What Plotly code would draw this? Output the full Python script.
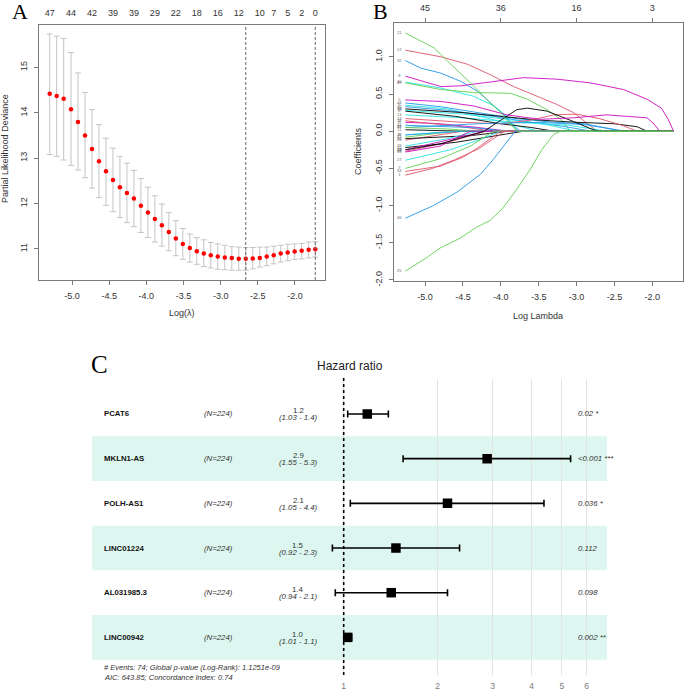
import plotly.graph_objects as go

W, H = 685, 691
FONT = "Liberation Sans, Arial, sans-serif"
SERIF = "Liberation Serif, Times New Roman, serif"
BOX = "#7a7a7a"
TXT = "#333333"


def fx(p):
    return p / W


def fy(p):
    return 1 - p / H


# ---------------- Panel A : cross-validated partial likelihood deviance ----------------
cv_log_lambda = [-5.300, -5.206, -5.112, -5.013, -4.919, -4.825, -4.731, -4.637, -4.543, -4.449,
                 -4.355, -4.261, -4.167, -4.073, -3.979, -3.885, -3.791, -3.697, -3.603, -3.509,
                 -3.415, -3.321, -3.227, -3.133, -3.039, -2.944, -2.850, -2.756, -2.662, -2.568,
                 -2.474, -2.380, -2.286, -2.192, -2.098, -2.004, -1.910, -1.816, -1.727]
cv_mean = [14.42, 14.37, 14.31, 14.08, 13.80, 13.50, 13.20, 12.93, 12.71, 12.52,
           12.36, 12.23, 12.11, 11.95, 11.80, 11.66, 11.52, 11.37, 11.23, 11.11,
           11.02, 10.95, 10.90, 10.86, 10.83, 10.81, 10.80, 10.78, 10.78, 10.79,
           10.80, 10.83, 10.86, 10.90, 10.92, 10.94, 10.96, 10.98, 10.99]
cv_upper = [15.74, 15.69, 15.64, 15.33, 14.88, 14.45, 14.07, 13.74, 13.44, 13.22,
            13.04, 12.89, 12.73, 12.55, 12.36, 12.17, 11.99, 11.80, 11.62, 11.45,
            11.33, 11.25, 11.20, 11.14, 11.11, 11.08, 11.05, 11.04, 11.03, 11.03,
            11.04, 11.04, 11.06, 11.08, 11.10, 11.11, 11.12, 11.15, 11.16]
cv_lower = [13.08, 13.04, 12.96, 12.84, 12.74, 12.57, 12.34, 12.13, 11.96, 11.82,
            11.69, 11.58, 11.49, 11.36, 11.25, 11.15, 11.06, 10.96, 10.85, 10.77,
            10.71, 10.66, 10.61, 10.58, 10.55, 10.54, 10.53, 10.53, 10.53, 10.56,
            10.60, 10.63, 10.67, 10.71, 10.74, 10.77, 10.78, 10.80, 10.82]
lambda_min_idx = 28
lambda_1se_idx = 38
nzero_tick_idx = [0, 3, 6, 9, 12, 15, 18, 21, 24, 27, 30, 32, 34, 36, 38]
nzero_tick_labels = ["47", "44", "42", "39", "39", "29", "22", "18", "16", "12", "10", "7", "5", "2", "0"]

loglam_ticks = [-5.0, -4.5, -4.0, -3.5, -3.0, -2.5, -2.0]
loglam_tick_labels = ["-5.0", "-4.5", "-4.0", "-3.5", "-3.0", "-2.5", "-2.0"]
dev_ticks = [11, 12, 13, 14, 15]

# ---------------- Panel B : coefficient paths ----------------
path_palette = ["#000000", "#DF536B", "#61D04F", "#2297E6", "#28E2E5", "#CD0BBC"]
path_end = -1.72
# (palette index, log-lambda knots, coefficient knots, variable label)
coef_paths = [
    (1, [-5.26, -4.79, -4.44, -4.14, -3.83, -3.48, -3.26, -3.04, -2.86, -2.73], [1.09, 1.00, 0.90, 0.76, 0.60, 0.45, 0.36, 0.25, 0.11, 0.0], "17"),
    (3, [-5.26, -5.06, -4.79, -4.53, -4.31, -4.14, -3.96, -3.83, -3.74], [0.95, 0.85, 0.78, 0.67, 0.54, 0.38, 0.22, 0.07, 0.0], "32"),
    (4, [-5.26, -4.79, -4.36, -4.09, -3.92, -3.78], [0.66, 0.58, 0.47, 0.34, 0.20, 0.0], "40"),
    (2, [-5.26, -4.79, -4.36, -3.87, -3.65, -3.39, -3.21, -3.08], [0.65, 0.56, 0.52, 0.51, 0.43, 0.29, 0.16, 0.0], "49"),
    (3, [-5.26, -4.80, -4.30, -3.80, -3.30, -2.90, -2.40], [0.38, 0.33, 0.25, 0.17, 0.12, 0.10, 0.0], "44"),
    (4, [-5.26, -4.70, -4.20, -3.80, -3.50], [0.35, 0.30, 0.18, 0.08, 0.0], "9"),
    (3, [-5.26, -4.70, -4.10, -3.60, -3.20, -2.80], [0.33, 0.28, 0.20, 0.12, 0.07, 0.0], "30"),
    (4, [-5.26, -4.50, -4.00, -3.40, -3.00], [0.28, 0.23, 0.17, 0.09, 0.0], "19"),
    (4, [-5.26, -4.50, -3.80, -3.10, -2.60], [0.22, 0.18, 0.12, 0.08, 0.0], "13"),
    (0, [-5.26, -4.50, -4.00, -3.50, -3.00, -2.50, -2.20, -2.07], [0.30, 0.25, 0.20, 0.15, 0.12, 0.10, 0.06, 0.0], "38"),
    (0, [-5.26, -4.60, -4.00, -3.60, -3.30], [0.27, 0.20, 0.10, 0.05, 0.0], "2"),
    (1, [-5.26, -4.50, -4.00, -3.60, -3.30, -3.00, -2.70, -2.40, -2.20], [0.17, 0.12, 0.10, 0.15, 0.22, 0.23, 0.17, 0.08, 0.0], "14"),
    (5, [-5.26, -4.80, -4.30, -3.90], [0.12, 0.10, 0.05, 0.0], "6"),
    (1, [-5.26, -4.60, -4.10], [0.14, 0.07, 0.0], "23"),
    (3, [-5.26, -4.30, -3.50, -2.90, -2.35], [0.05, 0.10, 0.12, 0.09, 0.0], "47"),
    (2, [-5.26, -4.70, -4.30], [0.05, 0.03, 0.0], "36"),
    (0, [-5.26, -4.50], [0.02, 0.0], "11"),
    (3, [-5.26, -4.40, -3.90], [0.08, 0.05, 0.0], "41"),
    (4, [-5.26, -4.60], [-0.05, 0.0], "3"),
    (1, [-5.26, -4.50], [-0.12, 0.0], "26"),
    (2, [-5.26, -4.60], [-0.08, 0.0], "43"),
    (0, [-5.26, -4.40, -3.90], [-0.10, -0.06, 0.0], "10"),
    (3, [-5.26, -4.50], [-0.05, 0.0], "37"),
    (1, [-5.26, -4.70, -4.20], [-0.27, -0.15, 0.0], "22"),
    (0, [-5.26, -4.60, -4.00, -3.70], [-0.22, -0.15, -0.05, 0.0], "15"),
    (4, [-5.26, -4.70, -4.30], [-0.20, -0.10, 0.0], "29"),
    (5, [-5.26, -4.80, -4.40], [-0.28, -0.20, 0.0], "33"),
    (5, [-5.26, -4.70, -4.20], [-0.25, -0.12, 0.0], "18"),
    (4, [-5.26, -4.67, -4.30, -4.00], [-0.39, -0.25, -0.12, 0.0], "27"),
    (2, [-5.26, -4.80, -4.40, -4.10], [-0.50, -0.37, -0.20, 0.0], "7"),
    (1, [-5.26, -4.80, -4.50, -4.30, -4.00], [-0.54, -0.47, -0.35, -0.22, 0.0], "34"),
    (1, [-5.26, -4.90, -4.60, -4.30, -3.95], [-0.59, -0.50, -0.38, -0.24, 0.0], "1"),
    (3, [-5.26, -4.89, -4.58, -4.27, -4.10, -4.00, -3.81], [-1.17, -1.00, -0.82, -0.58, -0.38, -0.25, 0.0], "46"),
    (0, [-5.26, -4.80, -4.22, -3.95, -3.79, -3.65, -3.39, -3.04, -2.78, -2.70], [-0.25, -0.17, 0.0, 0.18, 0.29, 0.31, 0.27, 0.13, 0.02, 0.0], "12"),
    (5, [-5.26, -4.79, -4.36, -3.92, -3.48, -3.04, -2.60, -2.16, -2.07, -1.99, -1.90], [0.42, 0.40, 0.34, 0.22, 0.16, 0.18, 0.22, 0.19, 0.18, 0.11, 0.0], "5"),
    (5, [-5.26, -4.79, -4.53, -4.14, -3.70, -3.26, -2.82, -2.38, -2.07, -1.88, -1.79, -1.72], [0.74, 0.60, 0.61, 0.66, 0.72, 0.70, 0.65, 0.56, 0.43, 0.31, 0.16, 0.0], "8"),
    (2, [-5.26, -4.88, -4.66, -4.36, -4.14, -4.00, -3.87, -3.78], [1.32, 1.12, 0.90, 0.61, 0.38, 0.25, 0.09, 0.0], "21"),
    (2, [-5.26, -4.98, -4.80, -4.54, -4.32, -4.14, -3.97, -3.79, -3.61, -3.46, -3.30, -3.21], [-1.88, -1.70, -1.57, -1.44, -1.29, -1.20, -1.03, -0.78, -0.51, -0.25, -0.04, 0.0], "25"),
]
df_tick_vals = [-5, -4, -3, -2]
df_tick_labels = ["45", "36", "16", "3"]
coef_ticks = [-2.0, -1.5, -1.0, -0.5, 0.0, 0.5, 1.0]
coef_tick_labels = ["-2.0", "-1.5", "-1.0", "-0.5", "0.0", "0.5", "1.0"]

# ---------------- Panel C : multivariate Cox forest plot ----------------
genes = ["PCAT6", "MKLN1-AS", "POLH-AS1", "LINC01224", "AL031985.3", "LINC00942"]
n_obs = [224, 224, 224, 224, 224, 224]
hr = [1.19, 2.88, 2.15, 1.47, 1.42, 1.03]
ci_low = [1.03, 1.55, 1.05, 0.92, 0.94, 1.01]
ci_high = [1.39, 5.33, 4.38, 2.35, 2.15, 1.06]
hr_text = ["1.2", "2.9", "2.1", "1.5", "1.4", "1.0"]
ci_text = ["(1.03 - 1.4)", "(1.55 - 5.3)", "(1.05 - 4.4)", "(0.92 - 2.3)", "(0.94 - 2.1)", "(1.01 - 1.1)"]
p_text = ["0.02 *", "<0.001 ***", "0.036 *", "0.112", "0.098", "0.002 **"]
hr_ticks = [1, 2, 3, 4, 5, 6]
footer_lines = ["# Events: 74; Global p-value (Log-Rank): 1.1251e-09",
                "AIC: 643.85; Concordance Index: 0.74"]

fig = go.Figure()

# ---- A traces
fig.add_trace(go.Scatter(
    x=cv_log_lambda, y=cv_mean, mode="markers",
    marker=dict(color="#FF0000", size=4.5),
    error_y=dict(type="data", symmetric=False,
                 array=[u - m for u, m in zip(cv_upper, cv_mean)],
                 arrayminus=[m - l for m, l in zip(cv_mean, cv_lower)],
                 color="#C4C4C4", thickness=1, width=3),
    xaxis="x", yaxis="y", showlegend=False, hoverinfo="skip"))
# invisible anchor trace so the top (number of non-zero coefficients) axis is drawn
fig.add_trace(go.Scatter(x=[cv_log_lambda[0]], y=[cv_mean[0]], mode="markers",
                         marker=dict(opacity=0), xaxis="x4", yaxis="y",
                         showlegend=False, hoverinfo="skip"))

# ---- B traces
for ci, xs, ys, lab in coef_paths:
    xs2 = list(xs) + ([path_end] if xs[-1] < path_end else [])
    ys2 = list(ys) + ([0.0] if xs[-1] < path_end else [])
    fig.add_trace(go.Scatter(x=xs2, y=ys2, mode="lines",
                             line=dict(color=path_palette[ci], width=0.9),
                             xaxis="x2", yaxis="y2", showlegend=False, hoverinfo="skip"))
fig.add_trace(go.Scatter(
    x=[p[1][0] - 0.08 for p in coef_paths], y=[p[2][0] for p in coef_paths],
    text=[p[3] for p in coef_paths], mode="text",
    textfont=dict(family=FONT, size=4, color="#666666"),
    xaxis="x2", yaxis="y2", showlegend=False, hoverinfo="skip"))
fig.add_trace(go.Scatter(x=[coef_paths[0][1][0]], y=[coef_paths[0][2][0]], mode="markers",
                         marker=dict(opacity=0), xaxis="x5", yaxis="y2",
                         showlegend=False, hoverinfo="skip"))

# ---- C traces
rows = [len(genes) - i for i in range(len(genes))]
fig.add_trace(go.Scatter(
    x=hr, y=rows, mode="markers",
    marker=dict(symbol="square", size=9.5, color="black"),
    error_x=dict(type="data", symmetric=False,
                 array=[h - m for h, m in zip(ci_high, hr)],
                 arrayminus=[m - l for m, l in zip(hr, ci_low)],
                 color="black", thickness=1.6, width=3.5),
    xaxis="x3", yaxis="y3", showlegend=False, hoverinfo="skip"))

shapes = []
for idx in (lambda_min_idx, lambda_1se_idx):
    shapes.append(dict(type="line", xref="x", yref="y domain",
                       x0=cv_log_lambda[idx], x1=cv_log_lambda[idx], y0=0, y1=1,
                       line=dict(color="#666666", width=1, dash="3px,2px")))
for i, r in enumerate(rows):
    if i % 2 == 1:
        shapes.append(dict(type="rect", xref="x3 domain", yref="y3",
                           x0=0, x1=1, y0=r - 0.5, y1=r + 0.5,
                           fillcolor="#DDF7F0", line=dict(width=0), layer="below"))
shapes.append(dict(type="line", xref="x3", yref="y3 domain", x0=1, x1=1, y0=0, y1=1.01,
                   line=dict(color="black", width=1.6, dash="dot")))

ann = []
def txt(x, y, s, size=9, angle=0, family=FONT, color=TXT, xanchor="center", yanchor="middle",
        xref="paper", yref="paper", yshift=0):
    ann.append(dict(x=x, y=y, xref=xref, yref=yref, text=s, showarrow=False,
                    textangle=angle, xanchor=xanchor, yanchor=yanchor, yshift=yshift,
                    font=dict(family=family, size=size, color=color)))

txt(fx(20), fy(12), "A", size=22, family=SERIF, color="black")
txt(fx(380), fy(12), "B", size=22, family=SERIF, color="black")
txt(fx(100), fy(367), "C", size=25, family=SERIF, color="black")
txt(fx(182), fy(315), "Log(λ)")
txt(fx(5), fy(150), "Partial Likelihood Deviance", angle=-90)
txt(fx(538), fy(318), "Log Lambda")
txt(fx(358), fy(153), "Coefficients", angle=-90)
txt(fx(350), fy(369), "Hazard ratio", size=12, color="#222222")

for i, r in enumerate(rows):
    txt(fx(102), r, "<b>%s</b>" % genes[i], size=7.8, color="#111111", xanchor="left", yref="y3")
    txt(fx(218), r, "<i>(N=%d)</i>" % n_obs[i], size=7.8, yref="y3")
    txt(fx(298), r, hr_text[i], size=7.8, yref="y3", yshift=3)
    txt(fx(298), r, "<i>%s</i>" % ci_text[i], size=7.8, yref="y3", yshift=-4)
    txt(fx(576), r, "<i>%s</i>" % p_text[i], size=7.8, xanchor="left", yref="y3")
txt(fx(102), fy(672), "<i>%s</i>" % footer_lines[0], size=7.5, xanchor="left")
txt(fx(102), fy(682), "<i>%s</i>" % footer_lines[1], size=7.5, xanchor="left")

tickfont = dict(family=FONT, size=9, color=TXT)
box = dict(showgrid=False, zeroline=False, showline=True, linecolor=BOX, linewidth=1,
           mirror=True, ticks="outside", ticklen=4, tickcolor=BOX, tickwidth=1, tickfont=tickfont)

fig.update_layout(
    width=W, height=H, margin=dict(l=0, r=0, t=0, b=0),
    paper_bgcolor="white", plot_bgcolor="white", showlegend=False,
    xaxis=dict(**box, domain=[fx(39), fx(325)], range=[-5.444, -1.596], anchor="y",
               tickvals=loglam_ticks, ticktext=loglam_tick_labels, ticklabelstandoff=3),
    yaxis=dict(**box, domain=[fy(282), fy(25)], range=[10.315, 15.94], anchor="x",
               tickvals=dev_ticks, tickangle=-90, ticklabelstandoff=3),
    xaxis4=dict(overlaying="x", side="top", anchor="y", range=[-5.444, -1.596],
                tickvals=[cv_log_lambda[i] for i in nzero_tick_idx], ticktext=nzero_tick_labels,
                ticks="", showline=False, showgrid=False, zeroline=False, tickfont=tickfont,
                ticklabelstandoff=6),
    xaxis2=dict(**box, domain=[fx(394), fx(683)], range=[-5.41, -1.595], anchor="y2",
                tickvals=loglam_ticks, ticktext=loglam_tick_labels, ticklabelstandoff=3),
    yaxis2=dict(**box, domain=[fy(283), fy(23)], range=[-2.013, 1.457], anchor="x2",
                tickvals=coef_ticks, ticktext=coef_tick_labels, tickangle=-90, ticklabelstandoff=3),
    xaxis5=dict(overlaying="x2", side="top", anchor="y2", range=[-5.41, -1.595],
                tickvals=df_tick_vals, ticktext=df_tick_labels, ticks="outside", ticklen=4,
                tickcolor=BOX, showline=False, showgrid=False, zeroline=False, tickfont=tickfont,
                ticklabelstandoff=3),
    xaxis3=dict(type="log", domain=[fx(92), fx(607)], range=[-0.8061, 0.8433], anchor="y3",
                showgrid=True, gridcolor="#E3E3E3", gridwidth=1, zeroline=False, showline=False,
                tickvals=hr_ticks, ticktext=[str(t) for t in hr_ticks], ticks="",
                ticklabelstandoff=4,
                tickfont=dict(family=FONT, size=8.5, color="#7a7a7a")),
    yaxis3=dict(domain=[fy(680), fy(382)], range=[0.156, 6.778], anchor="x3",
                showgrid=False, zeroline=False, showline=False, showticklabels=False, ticks=""),
    shapes=shapes, annotations=ann,
)

fig.write_html("out.html", config={"displayModeBar": False},
               post_script="document.body.style.margin='0';document.body.style.padding='0';")
